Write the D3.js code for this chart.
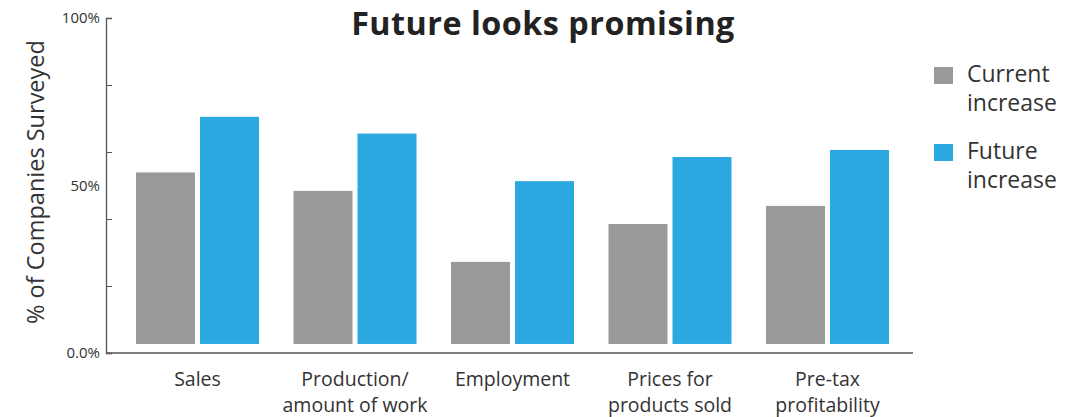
<!DOCTYPE html>
<html><head><meta charset="utf-8">
<script src="https://cdn.jsdelivr.net/npm/d3@7"></script>
<style>body{margin:0;background:#fff}svg{display:block}text{font-family:"Open Sans",Lato,sans-serif;fill:#333}</style>
</head><body><svg id="c" width="1091" height="417"></svg>
<script>
const categories = [["Sales"],["Production/","amount of work"],["Employment"],["Prices for","products sold"],["Pre-tax","profitability"]];
const seriesNames = ["Current increase","Future increase"];
const legendLines = [["Current","increase"],["Future","increase"]];
const currentValues = [53.9, 48.4, 27.2, 38.5, 43.9];
const futureValues = [70.5, 65.5, 51.3, 58.5, 60.6];
const barBase = 2.7;
const yTickValues = [0,20,40,60,80,100];
const yTickLabels = {0:"0.0%",50:"50%",100:"100%"};
const colors = ["#999999","#2ca8e1"];

const svg = d3.select("#c");
const y = d3.scaleLinear().domain([0,100]).range([353,18]);
const x0 = d3.scaleBand().domain(d3.range(categories.length)).range([118.75,906.25]).paddingInner(0.219).paddingOuter(0.1095);
const x1 = d3.scaleBand().domain(seriesNames).range([0,x0.bandwidth()]).paddingInner(0.078);
const data = categories.map((c,i)=>({i, vals:[currentValues[i],futureValues[i]]}));

svg.append("text").attr("x",543).attr("y",35).attr("text-anchor","middle").attr("font-size",32.3).attr("font-weight",700).attr("letter-spacing",0.5).style("fill","#222").text("Future looks promising");

// axes
const ax = svg.append("g").attr("transform","translate(106,0)")
  .call(d3.axisLeft(y).tickValues(yTickValues).tickSize(-6).tickFormat(""));
ax.select(".domain").attr("stroke","#555").attr("stroke-width",1.3);
ax.selectAll(".tick line").attr("stroke","#555").attr("stroke-width",1);
svg.append("g").selectAll("text").data([0,50,100]).join("text")
  .attr("x",100).attr("y",d=>y(d)+5).attr("text-anchor","end").attr("font-size",15).text(d=>yTickLabels[d]);
svg.append("line").attr("x1",106).attr("x2",913).attr("y1",y(0)).attr("y2",y(0)).attr("stroke","#555").attr("stroke-width",1.3);

svg.append("text").attr("transform","translate(44,182) rotate(-90)").attr("text-anchor","middle").attr("font-size",23.5).text("% of Companies Surveyed");

// bars
const g = svg.append("g");
data.forEach(d=>{
  d.vals.forEach((v,k)=>{
    g.append("rect").attr("x",x0(d.i)+x1(seriesNames[k])).attr("width",x1.bandwidth())
      .attr("y",y(v)).attr("height",y(barBase)-y(v)).attr("fill",colors[k]);
  });
});

// category labels
categories.forEach((lines,i)=>{
  const t = svg.append("text").attr("text-anchor","middle").attr("font-size",19.5);
  lines.forEach((l,j)=>t.append("tspan").attr("x",x0(i)+x0.bandwidth()/2).attr("y",386+j*26).text(l));
});

// legend
legendLines.forEach((lines,k)=>{
  const top = 64 + k*77;
  svg.append("rect").attr("x",934).attr("y",top+3).attr("width",19).attr("height",17).attr("fill",colors[k]);
  const t = svg.append("text").attr("font-size",23);
  lines.forEach((l,j)=>t.append("tspan").attr("x",967).attr("y",top+18+j*29).text(l));
});
</script></body></html>
